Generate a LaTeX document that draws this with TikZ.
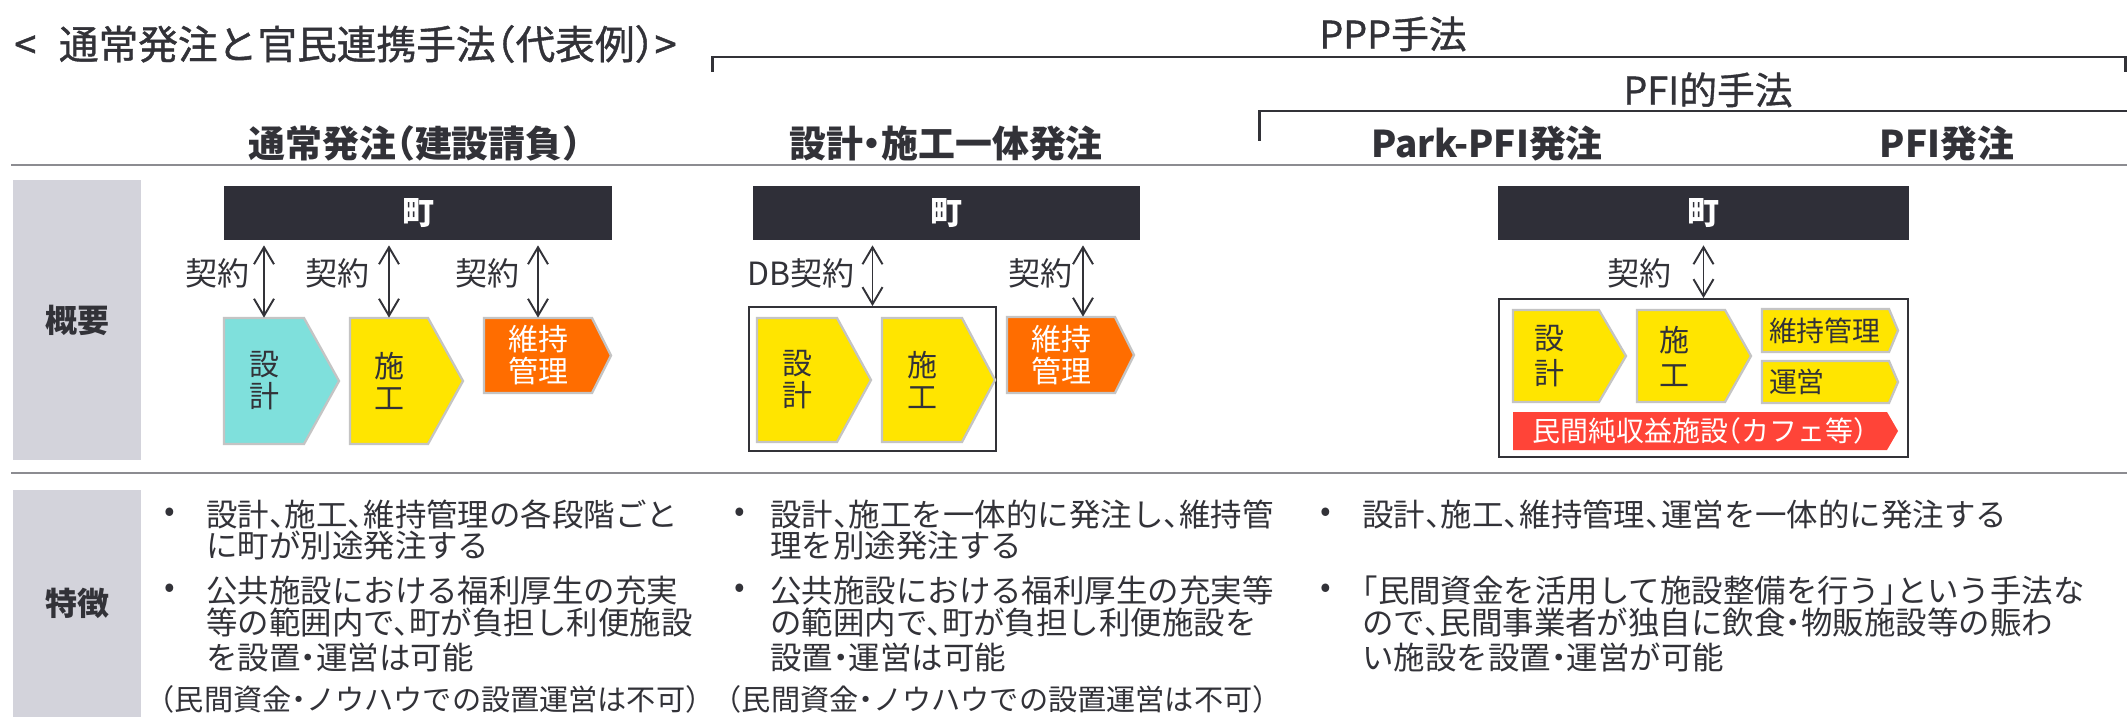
\documentclass[tikz,border=0pt]{standalone}
\usepackage{fontspec}
\setmainfont{Noto Sans CJK JP}[RawFeature=+halt]
\newfontfamily\jpmed{Noto Sans CJK JP}[RawFeature=+halt, FakeBold=1]
\usetikzlibrary{arrows.meta}
\definecolor{txt}{RGB}{50,50,56}
\definecolor{barc}{RGB}{47,47,56}
\definecolor{grayb}{RGB}{211,211,219}
\definecolor{sepc}{RGB}{140,140,145}
\definecolor{cyanc}{RGB}{127,224,220}
\definecolor{yelc}{RGB}{255,229,0}
\definecolor{orc}{RGB}{255,109,0}
\definecolor{redc}{RGB}{255,68,56}
\definecolor{pentb}{RGB}{196,196,196}
\newcommand\ftitle{\jpmed\fontsize{22.6pt}{24pt}\selectfont}
\newcommand\fhead{\fontsize{21pt}{24pt}\selectfont\bfseries}
\newcommand\fmid{\jpmed\fontsize{21.5pt}{24pt}\selectfont}
\newcommand\flab{\fontsize{18.2pt}{20pt}\selectfont}
\newcommand\fpent{\fontsize{17.07pt}{18.2pt}\selectfont}
\newcommand\fpentb{\fontsize{17.07pt}{19.9pt}\selectfont}
\newcommand\fsm{\fontsize{15.9pt}{17pt}\selectfont}
\newcommand\fbul{\fontsize{17.9pt}{20pt}\selectfont}
\newcommand\fnote{\fontsize{16.6pt}{18pt}\selectfont}
\tikzset{
  basetxt/.style={inner sep=0, text=txt},
  ttl/.style={basetxt, font=\ftitle, text height=19.9pt, text depth=2.7pt},
  hd/.style={basetxt, font=\fhead, text height=18.5pt, text depth=2.5pt},
  md/.style={basetxt, font=\fmid, text height=18.9pt, text depth=2.6pt},
  lab/.style={basetxt, font=\flab, anchor=east, text height=16pt, text depth=2.2pt},
  bul/.style={basetxt, font=\fbul, anchor=west, text height=15.75pt, text depth=2.15pt},
  dot/.style={basetxt, font=\fbul},
  note/.style={basetxt, font=\fnote, anchor=west, text height=14.6pt, text depth=2pt},
  sidebox/.style={fill=grayb, inner sep=0, text=txt, font=\flab\bfseries, minimum width=2.56cm},
  bar/.style={fill=barc, inner sep=0, text=white, font=\flab\bfseries, minimum height=1.08cm},
  obox/.style={draw=txt, line width=1.1pt, inner sep=0},
  pentline/.style={draw=pentb, line width=1.3pt},
  ptext/.style={inner sep=0, font=\fpent, align=center, text=txt},
  dar/.style={draw=txt, line width=1.1pt, arrows={Straight Barb[length=0.34cm,width=0.4cm]-Straight Barb[length=0.34cm,width=0.4cm]}, shorten <=0.1cm},
  sepline/.style={draw=sepc, line width=1.5pt},
  brk/.style={draw=txt, line width=1.7pt},
}
% name, x1, y1, shoulder x, tip x, y2, path options, node options, text
\newcommand\mypent[9]{%
  \filldraw[pentline, #7] (#2,#3) -- (#4,#3) -- (#5,{(#3+#6)/2}) -- (#4,#6) -- (#2,#6) -- cycle;
  \node[ptext, minimum width={(#4-#2)*0.02cm}, minimum height={(#6-#3)*0.02cm}, #8] (#1) at ({(#2+#4)/2},{(#3+#6)/2}) {#9};
}
\begin{document}
\begin{tikzpicture}[x=0.02cm, y=-0.02cm]
\useasboundingbox (0,0) rectangle (2127,726);
\fill[white] (0,0) rectangle (2127,726);

% title and headers
\node[ttl, anchor=west] (title) at (14,44) {<\hspace{0.45cm}通常発注と官民連携手法（代表例）>};
\node[md] (ppp) at (1393,34) {PPP手法};
\node[md] (pfi) at (1708,90) {PFI的手法};
\draw[brk] (712,72) -- (712,57) -- (2125,57) -- (2125,72);
\draw[brk] (1259,141) -- (1259,111) -- (2127,111);
\node[hd] (h1) at (415,143) {通常発注（建設請負）};
\node[hd] (h2) at (946,143) {設計・施工一体発注};
\node[hd] (h3) at (1487,143) {Park-PFI発注};
\node[hd] (h4) at (1947,143) {PFI発注};
\draw[sepline] (11,165) -- (2127,165);
\draw[sepline] (11,473) -- (2127,473);

% side labels
\node[sidebox, minimum height=5.6cm] (gaiyo) at (77,320) {概要};
\node[sidebox, minimum height=4.54cm] (tokucho) at (77,603.5) {特徴};

% bars
\node[bar, minimum width=7.76cm] (m1) at (418,213) {町};
\node[bar, minimum width=7.74cm] (m2) at (946.5,213) {町};
\node[bar, minimum width=8.22cm] (m3) at (1703.5,213) {町};

% outer boxes
\node[obox, minimum width=4.94cm, minimum height=2.88cm] (b2) at (872.5,379) {};
\node[obox, minimum width=8.18cm, minimum height=3.16cm] (b3) at (1703.5,378) {};

% column 1 pentagons
\mypent{d1}{224}{318}{304}{339}{444}{fill=cyanc}{}{設\\計}
\mypent{c1}{350}{318}{428}{463}{444}{fill=yelc}{}{施\\工}
\mypent{o1}{484}{318}{592}{611}{393}{fill=orc}{text=white}{維持\\管理}
% column 2
\mypent{d2}{757}{318}{837}{871}{442}{fill=yelc}{}{設\\計}
\mypent{c2}{882}{318}{962}{995}{442}{fill=yelc}{}{施\\工}
\mypent{o2}{1007}{317}{1115}{1134}{393}{fill=orc}{text=white}{維持\\管理}
% column 3
\mypent{d3}{1513}{310}{1599}{1626}{402}{fill=yelc}{font=\fpentb, xshift=-0.14cm}{設\\計}
\mypent{c3}{1637}{310}{1725}{1751}{402}{fill=yelc}{font=\fpentb, xshift=-0.14cm}{施\\工}
\mypent{mt3}{1762}{309}{1889}{1898}{352}{fill=yelc}{font=\fsm, align=left, text width=2.26cm}{維持管理}
\mypent{un3}{1762}{361}{1889}{1898}{403}{fill=yelc}{font=\fsm, align=left, text width=2.26cm}{運営}
\mypent{r3}{1513}{412}{1887}{1898}{450}{fill=redc, draw=none}{font=\fsm, text=white}{民間純収益施設（カフェ等）}

% arrows
\draw[dar] (m1.south -| d1.north) -- (d1.north);
\draw[dar] (m1.south -| c1.north) -- (c1.north);
\draw[dar] (m1.south -| o1.north) -- (o1.north);
\draw[dar] (m2.south -| b2.north) -- (b2.north);
\coordinate (o2a) at ([xshift=0.44cm]o2.north);
\draw[dar] (m2.south -| o2a) -- (o2a);
\draw[dar] (m3.south -| b3.north) -- (b3.north);

% contract labels
\node[lab] (k1) at (250,273) {契約};
\node[lab] (k2) at (370,273) {契約};
\node[lab] (k3) at (520,273) {契約};
\node[lab] (k4) at (855,273) {DB契約};
\node[lab] (k5) at (1073,273) {契約};
\node[lab] (k6) at (1672,273) {契約};

% features column 1
\node[dot] (p1a) at (170,515) {•};
\node[bul] (t1a) at (206,515) {設計、施工、維持管理の各段階ごと};
\node[bul] (t1b) at (206,546) {に町が別途発注する};
\node[dot] (p1b) at (170,591) {•};
\node[bul] (t1c) at (206,591) {公共施設における福利厚生の充実};
\node[bul] (t1d) at (206,623) {等の範囲内で、町が負担し利便施設};
\node[bul] (t1e) at (206,658) {を設置・運営は可能};
\node[note] (n1) at (160,699) {（民間資金・ノウハウでの設置運営は不可）};

% features column 2
\node[dot] (p2a) at (740,515) {•};
\node[bul] (t2a) at (770,515) {設計、施工を一体的に発注し、維持管};
\node[bul] (t2b) at (770,546) {理を別途発注する};
\node[dot] (p2b) at (740,591) {•};
\node[bul] (t2c) at (770,591) {公共施設における福利厚生の充実等};
\node[bul] (t2d) at (770,623) {の範囲内で、町が負担し利便施設を};
\node[bul] (t2e) at (770,658) {設置・運営は可能};
\node[note] (n2) at (727,699) {（民間資金・ノウハウでの設置運営は不可）};

% features column 3
\node[dot] (p3a) at (1326,515) {•};
\node[bul] (t3a) at (1362,515) {設計、施工、維持管理、運営を一体的に発注する};
\node[dot] (p3b) at (1326,591) {•};
\node[bul] (t3b) at (1362,591) {「民間資金を活用して施設整備を行う」という手法な};
\node[bul] (t3c) at (1362,623) {ので、民間事業者が独自に飲食・物販施設等の賑わ};
\node[bul] (t3d) at (1362,658) {い施設を設置・運営が可能};
\end{tikzpicture}
\end{document}
